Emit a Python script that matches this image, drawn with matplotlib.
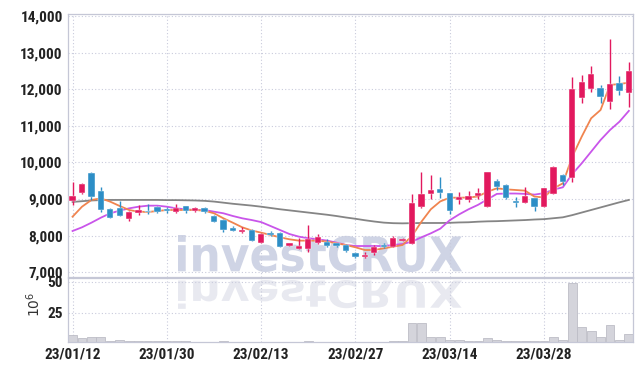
import matplotlib
matplotlib.use("Agg")
import matplotlib.pyplot as plt
from matplotlib import font_manager
from matplotlib.font_manager import FontProperties
from matplotlib.textpath import TextPath
from matplotlib.patches import PathPatch
from matplotlib.transforms import Affine2D, IdentityTransform
import numpy as np

# daily candles, 23/01/12 .. 23/04/10 (trading days)
opens = [8954, 9156, 9719, 9219, 8719, 8746, 8454, 8610, 8672, 8790,
         8727, 8645, 8809, 8664, 8763, 8545, 8426, 8217, 8090, 8153,
         7808, 8063, 8081, 7727, 7643, 7634, 7808, 7836, 7790, 7744,
         7535, 7424, 7516, 7744, 7697, 7863, 7771, 8772, 9128, 9273,
         9156, 8973, 8982, 9073, 8790, 9500, 9383, 8954, 8900, 9036,
         8790, 9150, 9656, 9565, 11768, 11997, 12025, 11659, 12161, 11905]
highs = [9473, 9446, 9738, 9320, 8746, 8954, 8672, 8836, 8863, 8800,
         8790, 8873, 8810, 8770, 8790, 8560, 8450, 8250, 8245, 8170,
         8060, 8130, 8090, 7800, 7927, 8282, 8036, 7900, 7800, 7760,
         7560, 7560, 7750, 7790, 8000, 7940, 9140, 9740, 9656, 9610,
         9170, 9200, 9219, 9292, 9738, 9537, 9410, 9063, 9320, 9040,
         9300, 9890, 9683, 12325, 12389, 12634, 12115, 13363, 12370, 12734]
lows = [8836, 9128, 8973, 8653, 8473, 8545, 8408, 8555, 8590, 8620,
        8630, 8626, 8620, 8650, 8630, 8370, 8110, 8120, 8063, 7850,
        7790, 7990, 7690, 7720, 7630, 7544, 7771, 7700, 7700, 7550,
        7400, 7400, 7470, 7650, 7680, 7840, 7760, 8760, 8990, 9036,
        8582, 8855, 8910, 9009, 8790, 9246, 9009, 8790, 8882, 8681,
        8780, 9140, 9383, 9473, 11615, 11932, 11615, 11451, 11841, 11505]
closes = [9082, 9402, 9063, 8700, 8489, 8545, 8637, 8700, 8637, 8637,
          8664, 8754, 8672, 8754, 8654, 8380, 8153, 8135, 8153, 7863,
          8044, 8008, 7699, 7792, 7716, 7900, 7954, 7727, 7727, 7588,
          7424, 7470, 7697, 7697, 7927, 7918, 8900, 9140, 9255, 9156,
          8672, 9063, 9073, 9160, 9738, 9336, 9036, 8882, 9082, 8790,
          9292, 9883, 9456, 12006, 12197, 12415, 11795, 12142, 11960, 12497]
volume = [6.8, 4.3, 5.2, 5.2, 2.2, 3.0, 2.2, 2.2, 2.2, 2.2,
          1.6, 2.2, 1.4, 1.3, 1.3, 1.3, 2.2, 1.3, 1.3, 1.3,
          1.2, 1.2, 1.2, 1.2, 1.3, 2.2, 1.3, 1.2, 1.2, 1.2,
          1.1, 1.1, 1.2, 1.3, 2.2, 1.4, 16.4, 16.4, 5.2, 5.2,
          3.0, 3.0, 2.2, 2.2, 4.3, 3.0, 2.2, 2.2, 2.2, 2.2,
          2.2, 5.2, 3.0, 49.2, 13.2, 10.2, 4.8, 15.1, 3.0, 7.8]

# moving average lines as drawn
ma_short = [8517, 8790, 8973, 9018, 8927, 8809, 8700, 8654, 8645, 8672,
            8700, 8700, 8700, 8700, 8680, 8610, 8473, 8353, 8227, 8140,
            8081, 8017, 7954, 7900, 7863, 7863, 7863, 7836, 7790, 7744,
            7681, 7607, 7607, 7653, 7697, 7744, 7990, 8380, 8720, 8935,
            9036, 9036, 9040, 9070, 9200, 9292, 9264, 9246, 9228, 9063,
            9045, 9290, 9428, 10157, 10703, 11205, 11432, 12115, 12142, 12178]
ma_mid = [8126, 8227, 8353, 8490, 8610, 8682, 8745, 8790, 8818, 8818,
          8790, 8745, 8718, 8700, 8700, 8654, 8610, 8536, 8473, 8426,
          8370, 8262, 8153, 8044, 7972, 7927, 7900, 7863, 7808, 7744,
          7716, 7716, 7716, 7716, 7744, 7771, 7836, 7954, 8063, 8190,
          8420, 8580, 8720, 8840, 8990, 9140, 9150, 9150, 9140, 9120,
          9160, 9255, 9320, 9683, 9975, 10293, 10612, 10885, 11112, 11408]
ma_long = [8920, 8940, 8960, 8970, 8975, 8975, 8975, 8975, 8975, 8975,
           8970, 8970, 8965, 8960, 8950, 8930, 8900, 8870, 8845, 8820,
           8790, 8755, 8720, 8690, 8660, 8630, 8600, 8570, 8535, 8495,
           8460, 8420, 8385, 8355, 8340, 8335, 8340, 8345, 8345, 8345,
           8350, 8360, 8365, 8380, 8390, 8395, 8405, 8415, 8425, 8440,
           8450, 8475, 8500, 8560, 8630, 8700, 8770, 8840, 8910, 8975]

tick_pos = [0, 10, 20, 30, 40, 50]
tick_labels = ["23/01/12", "23/01/30", "23/02/13", "23/02/27", "23/03/14", "23/03/28"]

up_col = "#e2195e"
down_col = "#2d8ec6"
grid_col = "#c9cbdc"

avail = set(f.name for f in font_manager.fontManager.ttflist)
lab_font = "DejaVu Sans"
for name in ["Liberation Sans Narrow", "Roboto Condensed", "DejaVu Sans"]:
    if name in avail:
        lab_font = name
        break

fig = plt.figure(figsize=(6.42, 3.71), dpi=100)
fig.patch.set_facecolor("white")
ax1 = fig.add_axes([0.1064, 0.2534, 0.879, 0.709])
ax2 = fig.add_axes([0.1064, 0.0782, 0.879, 0.1725], sharex=ax1)
for ax in (ax1, ax2):
    ax.set_facecolor("none")

# watermark + faded reflection, in pixel coords
tp = TextPath((0, 0), "investCRUX", size=100,
              prop=FontProperties(family="DejaVu Sans", weight="bold"))
ext = tp.get_extents()
H = 371
sx = (462 - 178) / ext.width
sy = (272 - 235) / ext.height
t_main = Affine2D().translate(-ext.x0, -ext.y0).scale(sx, sy).translate(178, H - 272)
t_refl = Affine2D().translate(-ext.x0, -ext.y0).scale(sx, -sy * 0.78).translate(178, H - 280)
fig.add_artist(PathPatch(tp, transform=t_main + IdentityTransform(),
                         facecolor="#cfd4e5", edgecolor="none", zorder=-1))
fig.add_artist(PathPatch(tp, transform=t_refl + IdentityTransform(),
                         facecolor="#e8e9f0", edgecolor="none", zorder=-1))

x = np.arange(len(opens))
o = np.array(opens)
c = np.array(closes)
cols = [up_col if cc >= oo else down_col for oo, cc in zip(o, c)]

# moving averages
ax1.plot(x, ma_long, color="#858585", lw=1.3, zorder=2)
ax1.plot(x, ma_mid, color="#c955ea", lw=1.3, zorder=2)
ax1.plot(x, ma_short, color="#f0844f", lw=1.3, zorder=2)

# candles
ax1.vlines(x, lows, highs, colors=cols, lw=1.0, zorder=3)
body_h = np.maximum(np.abs(c - o), 25)
ax1.bar(x, body_h, bottom=np.minimum(o, c), width=0.66, color=cols,
        edgecolor="white", linewidth=0.3, zorder=4)

ax1.set_ylim(6870, 14055)
ax1.set_xlim(-0.45, 59.4)
ax1.set_yticks(range(7000, 14001, 1000))
ax1.set_yticklabels([f"{v:,}" for v in range(7000, 14001, 1000)])
ax1.tick_params(axis="x", labelbottom=False, length=0)

# volume
ax2.bar(x, volume, width=0.95, color="#d4d4db", edgecolor="#bdbdc6",
        linewidth=0.6, zorder=2)
ax2.set_ylim(1.0, 53.2)
ax2.set_yticks([25, 50])
ax2.set_yticklabels(["25", "50"])
ax2.set_xticks(tick_pos)
ax2.set_xticklabels(tick_labels)
fig.text(0.052, 0.18, "10$^6$", rotation=90, ha="center", va="center",
         fontsize=10, color="#333333")

for ax in (ax1, ax2):
    ax.grid(True, color=grid_col, linestyle=(0, (1, 2)), linewidth=0.8)
    ax.set_axisbelow(True)
    ax.tick_params(length=0, labelsize=11, colors="#222222", pad=4)
    for lab in ax.get_xticklabels() + ax.get_yticklabels():
        lab.set_fontfamily(lab_font)
        lab.set_fontweight("bold")
    for s in ax.spines.values():
        s.set_color("#c5c7d6")
        s.set_linewidth(0.9)

fig.savefig("out.png", dpi=100)
